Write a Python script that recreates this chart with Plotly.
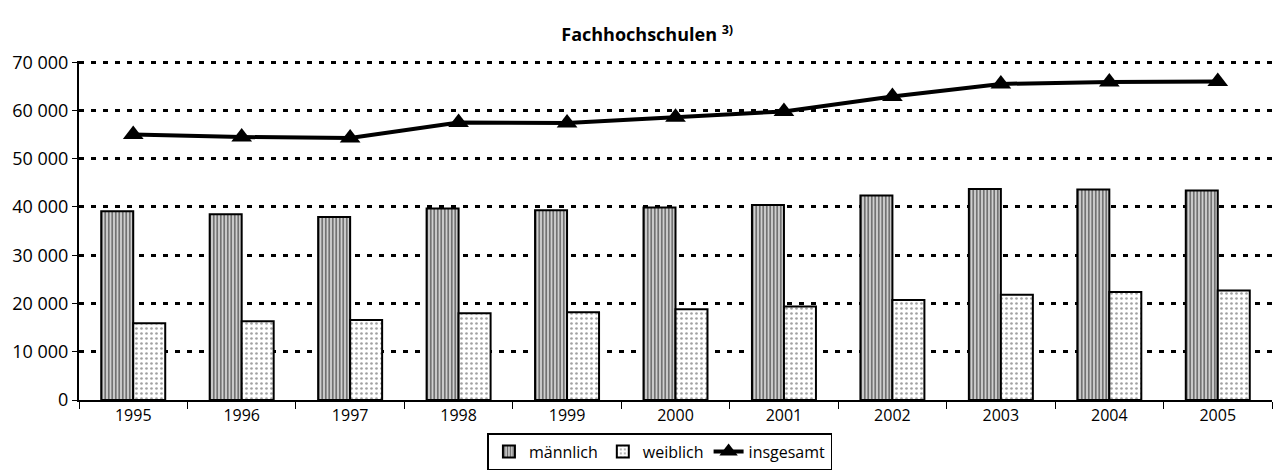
import plotly.graph_objects as go

years = ["1995", "1996", "1997", "1998", "1999", "2000", "2001", "2002", "2003", "2004", "2005"]
maennlich = [39100, 38500, 37900, 39700, 39300, 39900, 40400, 42400, 43700, 43600, 43400]
weiblich = [15900, 16300, 16600, 18000, 18200, 18800, 19400, 20700, 21800, 22400, 22700]
insgesamt = [55000, 54500, 54300, 57500, 57400, 58600, 59800, 62900, 65500, 65900, 66000]
y_ticks = [0, 10000, 20000, 30000, 40000, 50000, 60000, 70000]

FONT = "Open Sans"

fig = go.Figure()
fig.add_trace(go.Bar(
    x=years, y=maennlich, name="männlich",
    marker=dict(color="#b0b0b0", line=dict(color="black", width=2),
                pattern=dict(shape="|", fgcolor="black", bgcolor="#d0d0d0", size=3.5, solidity=0.45)),
))
fig.add_trace(go.Bar(
    x=years, y=weiblich, name="weiblich",
    marker=dict(color="white", line=dict(color="black", width=2),
                pattern=dict(shape=".", fgcolor="#444444", bgcolor="white", size=5, solidity=0.22)),
))
fig.add_trace(go.Scatter(
    x=years, y=insgesamt, name="insgesamt", mode="lines+markers",
    line=dict(color="black", width=4),
    marker=dict(symbol="triangle-up", size=18, color="black"),
))

fig.update_layout(
    width=1274, height=470,
    margin=dict(l=79, r=2, t=61, b=70, autoexpand=False),
    paper_bgcolor="white", plot_bgcolor="white",
    font=dict(family=FONT, size=16, color="black"),
    separators=", ",
    barmode="group", bargap=0.41, bargroupgap=0,
    title=dict(text="<b>Fachhochschulen <sup>3)</sup></b>", x=0.508, xanchor="center",
               y=0.926, yanchor="middle", font=dict(family=FONT, size=18)),
    showlegend=True,
    legend=dict(orientation="h", xref="container", yref="container", x=0.518, xanchor="center",
                y=0.0, yanchor="bottom", bordercolor="black", borderwidth=1.5,
                font=dict(family=FONT, size=16), itemwidth=30, tracegroupgap=0,
                bgcolor="white"),
    xaxis=dict(range=[-0.5, 10.5], showline=True, linecolor="black", linewidth=2, ticks="outside",
               tickson="boundaries", ticklen=7, tickcolor="black", tickwidth=1, showgrid=False,
               tickfont=dict(family=FONT, size=16)),
    yaxis=dict(range=[0, 70250], tickvals=y_ticks, tickformat=",d", showline=True, linecolor="black",
               linewidth=2, ticks="outside", ticklen=5, tickcolor="black", showgrid=True,
               gridcolor="black", gridwidth=2.5, griddash="5px,7px", zeroline=False,
               tickfont=dict(family=FONT, size=18)),
)

fig.write_html("out.html", config={"displayModeBar": False},
               post_script="document.body.style.margin='0';document.body.style.overflow='hidden';")
